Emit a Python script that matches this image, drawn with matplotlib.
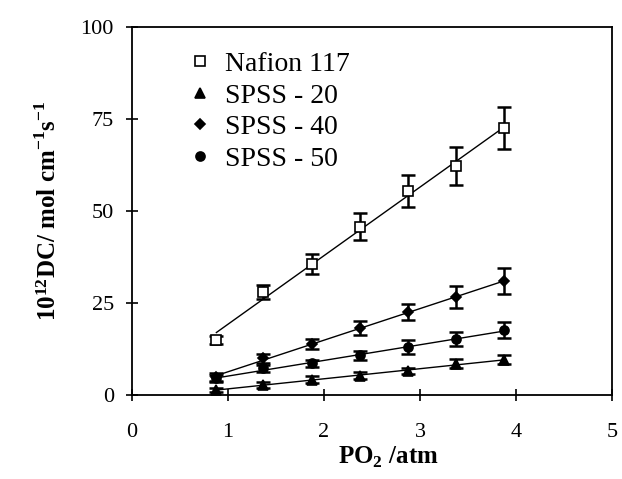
import numpy as np
import matplotlib
matplotlib.use("Agg")
import matplotlib.pyplot as plt

plt.rcParams["font.family"] = ["Liberation Serif", "DejaVu Serif"]
plt.rcParams["mathtext.fontset"] = "custom"
plt.rcParams["mathtext.rm"] = "Liberation Serif"
plt.rcParams["mathtext.bf"] = "Liberation Serif:bold"

# ---------------- datos ----------------
po2 = [0.88, 1.37, 1.88, 2.38, 2.88, 3.38, 3.88]

nafion = [15.0, 28.0, 35.5, 45.7, 55.4, 62.2, 72.6]
nafion_err = [1.0, 2.0, 2.7, 3.7, 4.4, 5.2, 5.7]

spss20 = [1.4, 2.8, 4.2, 5.3, 6.6, 8.5, 9.6]
spss20_err = [0.6, 0.8, 1.0, 1.0, 0.8, 1.2, 1.2]

spss40 = [4.9, 10.0, 13.9, 18.2, 22.5, 26.7, 31.0]
spss40_err = [1.0, 1.2, 1.4, 1.9, 2.2, 3.0, 3.5]

spss50 = [4.6, 7.3, 8.6, 10.8, 13.1, 15.2, 17.7]
spss50_err = [1.0, 1.0, 1.0, 1.3, 1.9, 1.9, 2.3]

series = [
    ("Nafion 117", nafion, nafion_err, "s", "white"),
    ("SPSS - 20", spss20, spss20_err, "^", "black"),
    ("SPSS - 40", spss40, spss40_err, "D", "black"),
    ("SPSS - 50", spss50, spss50_err, "o", "black"),
]

fig = plt.figure(figsize=(6.22, 4.79), dpi=100)
ax = fig.add_axes([0.212, 0.175, 0.772, 0.769])

x = np.array(po2)
for nombre, y, err, mk, fc in series:
    # recta de ajuste
    m, b = np.polyfit(x, y, 1)
    ax.plot(x, m * x + b, color="black", lw=1.0, zorder=2)
    ax.errorbar(x, y, yerr=err, fmt="none", ecolor="black", elinewidth=1.8,
                capsize=5, capthick=1.8, zorder=3)
    ms = 5.5 if mk == "D" else 6.5
    ax.plot(x, y, mk, ms=ms, mfc=fc, mec="black", mew=1.2, label=nombre, zorder=4)

ax.set_xlim(0, 5)
ax.set_ylim(0, 100)
ax.set_xticks([0, 1, 2, 3, 4, 5])
ax.set_yticks([0, 25, 50, 75, 100])
ax.tick_params(direction="inout", length=8, width=1.2, labelsize=16)
ax.tick_params(axis="x", pad=16)
ax.tick_params(axis="y", pad=9)
for s in ax.spines.values():
    s.set_linewidth(1.3)

ax.set_xlabel(r"PO$_\mathbf{2}$ /atm", fontsize=18, fontweight="bold", labelpad=4)
ax.xaxis.set_label_coords(0.535, -0.135)
ax.set_ylabel(r"$\mathbf{10^{12}}$DC/ mol cm$^\mathbf{-1}$s$^\mathbf{-1}$",
              fontsize=18, fontweight="bold", labelpad=14)

ax.legend(loc="upper left", frameon=False, fontsize=20, handlelength=0.6,
          handletextpad=0.6, labelspacing=0.22, borderaxespad=0.2,
          bbox_to_anchor=(0.09, 0.978))

fig.savefig("out.png", dpi=100)
